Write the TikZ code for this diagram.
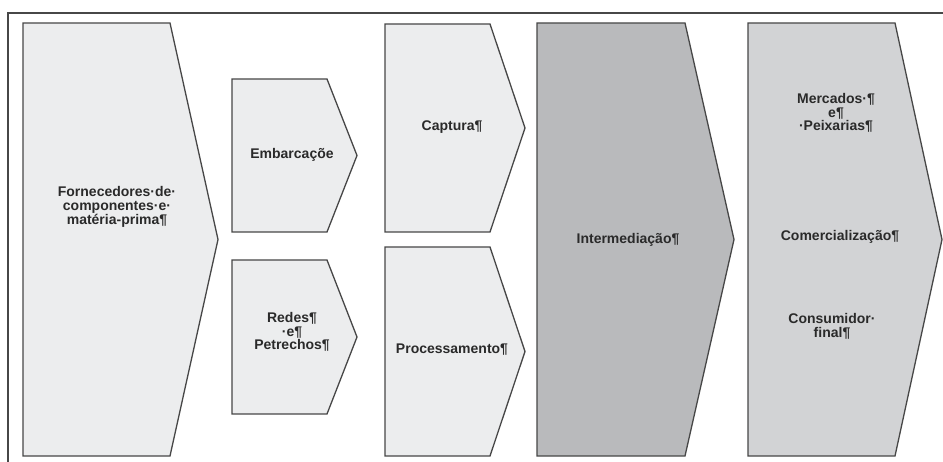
\documentclass[tikz,border=0pt]{standalone}
\usepackage{fontspec}
\setmainfont{Liberation Sans}
\definecolor{edge}{HTML}{474747}
\definecolor{lite}{HTML}{ECEDEE}
\definecolor{mid}{HTML}{D2D3D5}
\definecolor{dark}{HTML}{B9BABC}
\definecolor{ink}{HTML}{2A2A2A}
\newcommand{\chevshape}[6]{% fill, left, right corner, tip, top, bottom
  \filldraw[chev,fill=#1] (#2,#5) -- (#3,#5) -- (#4,{(#5+#6)/2}) -- (#3,#6) -- (#2,#6) -- cycle;}
\begin{document}
\begin{tikzpicture}[x=1pt,y=-1pt,
  chev/.style={draw=edge,line width=1.3pt,line join=miter},
  lbl/.style={text=ink,align=center,inner sep=0pt,font=\fontsize{14}{13.8}\selectfont\bfseries}]
\useasboundingbox (0,0) rectangle (943,462);
\fill[white] (0,0) rectangle (943,462);
\draw[edge,line width=1.3pt] (8,470) -- (8,13) -- (950,13);
\chevshape{lite}{23}{170}{218}{23}{456}
\chevshape{lite}{232}{327}{357}{79}{232}
\chevshape{lite}{232}{327}{357}{260}{414}
\chevshape{lite}{385}{490}{525}{24}{232}
\chevshape{lite}{385}{490}{525}{247}{456}
\chevshape{dark}{537}{685}{734}{23}{456}
\chevshape{mid}{748}{895}{942}{23}{456}
\node[lbl] (forn) at (117,207) {Fornecedores·de·\\componentes·e·\\matéria-prima¶};
\node[lbl] (emb) at (292,155) {Embarcaçõe};
\node[lbl] (redes) at (292,332) {Redes¶\\·e¶\\Petrechos¶};
\node[lbl] (capt) at (452,127) {Captura¶};
\node[lbl] (proc) at (452,350) {Processamento¶};
\node[lbl] (inter) at (628,240) {Intermediação¶};
\node[lbl] (merc) at (836,113) {Mercados·¶\\e¶\\·Peixarias¶};
\node[lbl] (com) at (840,237) {Comercialização¶};
\node[lbl] (cons) at (832,326) {Consumidor·\\final¶};
\end{tikzpicture}
\end{document}
